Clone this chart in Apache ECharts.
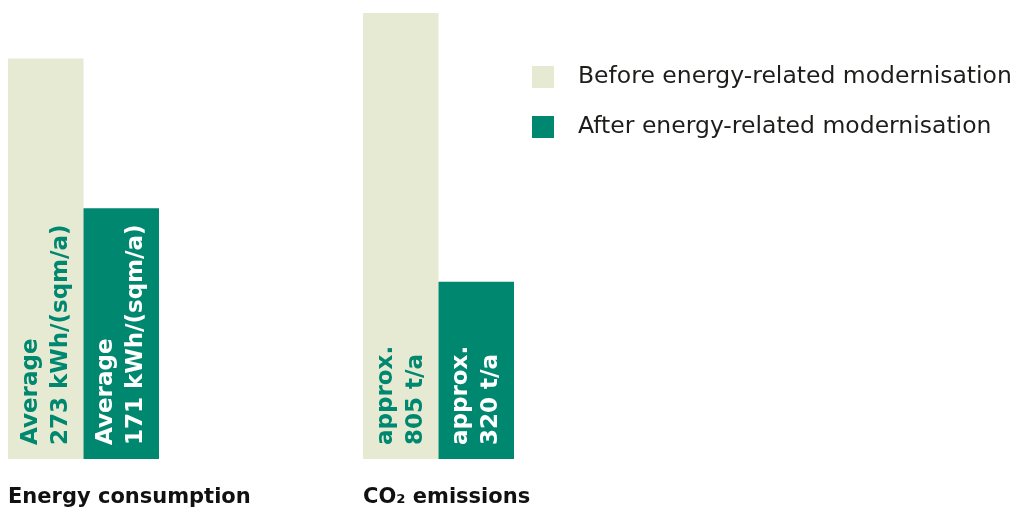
<!DOCTYPE html>
<html>
<head>
<meta charset="utf-8">
<script src="https://cdn.jsdelivr.net/npm/echarts@6/dist/echarts.min.js"></script>
<style>html,body{margin:0;padding:0;background:#fff}#c{width:1024px;height:514px}</style>
</head>
<body>
<div id="c"></div>
<script>
var categories = ['Energy consumption', 'CO\u2082 emissions'];
var seriesNames = ['Before energy-related modernisation', 'After energy-related modernisation'];
var beforeValues = [273, 805];
var afterValues = [171, 320];
var beforeLabels = ['Average\n273 kWh/(sqm/a)', 'approx.\n805 t/a'];
var afterLabels = ['Average\n171 kWh/(sqm/a)', 'approx.\n320 t/a'];

var LIGHT = '#e6ead3', DARK = '#00876f';
var FONT = 'DejaVu Sans';
var chart = echarts.init(document.getElementById('c'));

var grids = [
  {left: 8, width: 151, top: 13, bottom: 55, outerBoundsMode: 'none', containLabel: false},
  {left: 363, width: 151, top: 13, bottom: 55, outerBoundsMode: 'none', containLabel: false}
];
var yMax = [304, 805];

function lbl(txt, color) {
  return {
    show: true, position: 'insideBottom', distance: 14, rotate: 90,
    align: 'left', verticalAlign: 'middle',
    formatter: function () { return txt; },
    color: color, fontFamily: FONT, fontWeight: 'bold', fontSize: 23, lineHeight: 30
  };
}

var xAxes = [], yAxes = [], series = [];
categories.forEach(function (cat, i) {
  xAxes.push({
    type: 'category', gridIndex: i, data: [cat],
    axisLine: {show: false}, axisTick: {show: false},
    axisLabel: {
      show: true, align: 'left', margin: 28, padding: [0, 0, 0, -75.5],
      color: '#111', fontFamily: FONT, fontWeight: 'bold', fontSize: 21
    }
  });
  yAxes.push({type: 'value', gridIndex: i, min: 0, max: yMax[i], show: false, splitLine: {show: false}});
  series.push({
    name: seriesNames[0], type: 'bar', xAxisIndex: i, yAxisIndex: i,
    barWidth: 75.5, barGap: '0%', itemStyle: {color: LIGHT},
    data: [{value: beforeValues[i], label: lbl(beforeLabels[i], DARK)}]
  });
  series.push({
    name: seriesNames[1], type: 'bar', xAxisIndex: i, yAxisIndex: i,
    barWidth: 75.5, barGap: '0%', itemStyle: {color: DARK},
    data: [{value: afterValues[i], label: lbl(afterLabels[i], '#ffffff')}]
  });
});

chart.setOption({
  animation: false,
  backgroundColor: '#ffffff',
  legend: {
    data: seriesNames, orient: 'vertical', left: 532, top: 65, padding: 0,
    icon: 'rect', itemWidth: 22, itemHeight: 22, itemGap: 26,
    textStyle: {color: '#1d1d1b', fontFamily: FONT, fontSize: 23.5, padding: [0, 0, 0, 19]}
  },
  grid: grids,
  xAxis: xAxes,
  yAxis: yAxes,
  series: series
});
</script>
</body>
</html>
